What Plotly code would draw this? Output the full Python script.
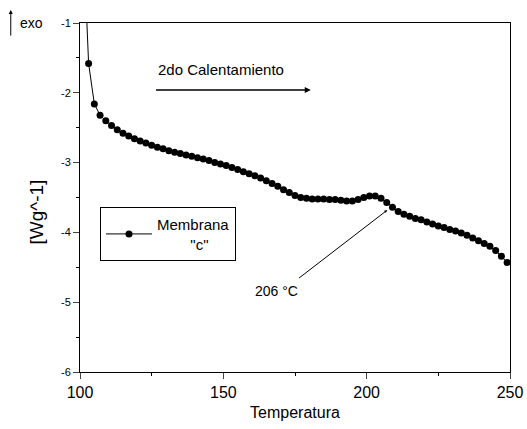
import plotly.graph_objects as go

temperatura = [102.2, 103, 105, 107, 109, 111, 113, 115, 117, 119, 121, 123, 125, 127, 129, 131, 133, 135,
               137, 139, 141, 143, 145, 147, 149, 151, 153, 155, 157, 159, 161, 163, 165, 167,
               169, 171, 173, 175, 177, 179, 181, 183, 185, 187, 189, 191, 193, 195, 197, 199,
               201, 203, 205, 207, 209, 211, 213, 215, 217, 219, 221, 223, 225, 227, 229, 231,
               233, 235, 237, 239, 241, 243, 245, 247, 249]
flujo = [-0.8, -1.58, -2.16, -2.32, -2.40, -2.47, -2.53, -2.58, -2.62, -2.66, -2.69, -2.72, -2.75, -2.78,
         -2.80, -2.83, -2.85, -2.87, -2.89, -2.91, -2.93, -2.95, -2.97, -3.00, -3.02,
         -3.04, -3.07, -3.10, -3.13, -3.16, -3.19, -3.22, -3.26, -3.30, -3.34, -3.39,
         -3.43, -3.47, -3.50, -3.51, -3.52, -3.52, -3.52, -3.53, -3.53, -3.54, -3.55,
         -3.55, -3.53, -3.50, -3.48, -3.48, -3.51, -3.57, -3.64, -3.70, -3.74, -3.77,
         -3.80, -3.82, -3.85, -3.88, -3.91, -3.93, -3.96, -3.98, -4.01, -4.04, -4.08,
         -4.12, -4.16, -4.20, -4.26, -4.34, -4.43]

x_ticks = [100, 150, 200, 250]
y_ticks = [-1, -2, -3, -4, -5, -6]
y_ticktext = ["-1", "-2", "-3", "-4", "-5", "-6"]

FONT = "Liberation Sans, Arial, sans-serif"

fig = go.Figure()
fig.add_trace(go.Scatter(
    x=temperatura, y=flujo, mode="lines+markers",
    name="Membrana<br>\u00a0\u00a0\u00a0\u00a0\u00a0\u00a0\u00a0\u00a0\"c\"",
    line=dict(color="black", width=1),
    marker=dict(color="black", size=7),
))

fig.update_layout(
    width=527, height=429,
    margin=dict(l=80, r=17, t=23, b=57),
    paper_bgcolor="white", plot_bgcolor="white",
    font=dict(family=FONT, color="black"),
    showlegend=True,
    legend=dict(x=0.0465, y=0.473, xanchor="left", yanchor="top",
                bordercolor="black", borderwidth=1, bgcolor="white",
                font=dict(size=15), itemwidth=46, tracegroupgap=0),
    xaxis=dict(range=[100, 250], tickvals=x_ticks, ticks="outside", ticklen=6,
               showline=True, linecolor="black", linewidth=1, mirror=True, automargin=False,
               showgrid=False, zeroline=False, tickfont=dict(size=16),
               minor=dict(tickvals=[125, 175, 225], ticks="outside", ticklen=3, tickcolor="black"),
               title=dict(text="Temperatura", font=dict(size=16), standoff=6)),
    yaxis=dict(range=[-6, -1], tickvals=y_ticks, ticktext=y_ticktext, ticks="outside", ticklen=6,
               showline=True, linecolor="black", linewidth=1, mirror=True, automargin=False,
               showgrid=False, zeroline=False, tickfont=dict(size=11),
               minor=dict(tickvals=[-1.5, -2.5, -3.5, -4.5, -5.5], ticks="outside", ticklen=3,
                          tickcolor="black")),
)

# y-axis title placed as annotation
fig.add_annotation(text="[Wg^-1]", xref="paper", yref="paper", x=-0.1, y=0.457,
                   xanchor="center", yanchor="middle", textangle=-90,
                   showarrow=False, font=dict(size=19))
# exo marker
fig.add_annotation(text="exo", xref="paper", yref="paper", x=-0.145, y=1.0,
                   xanchor="left", yanchor="middle", showarrow=False, font=dict(size=14))
fig.add_annotation(x=-0.161, y=1.037, ax=0, ay=27, xref="paper", yref="paper",
                   axref="pixel", ayref="pixel", text="", showarrow=True,
                   arrowhead=2, arrowsize=0.8, arrowwidth=1, arrowcolor="black")
# 2do Calentamiento
fig.add_annotation(text="2do Calentamiento", x=126.5, y=-1.66, xanchor="left", yanchor="middle",
                   showarrow=False, font=dict(size=15))
fig.add_annotation(x=180.5, y=-1.96, ax=126, ay=-1.96, xref="x", yref="y", axref="x", ayref="y",
                   text="", showarrow=True, arrowhead=2, arrowsize=0.8, arrowwidth=1.5,
                   arrowcolor="black")
# 206 °C
fig.add_annotation(text="206 °C", x=176.8, y=-4.84, xanchor="right", yanchor="middle",
                   showarrow=False, font=dict(size=14))
fig.add_annotation(x=207.2, y=-3.68, ax=175.9, ay=-4.67, xref="x", yref="y", axref="x", ayref="y",
                   text="", showarrow=True, arrowhead=2, arrowsize=0.6, arrowwidth=1,
                   arrowcolor="black")

fig.write_html("out.html", config={"displayModeBar": False},
               post_script="document.body.style.margin='0';document.body.style.padding='0';")
